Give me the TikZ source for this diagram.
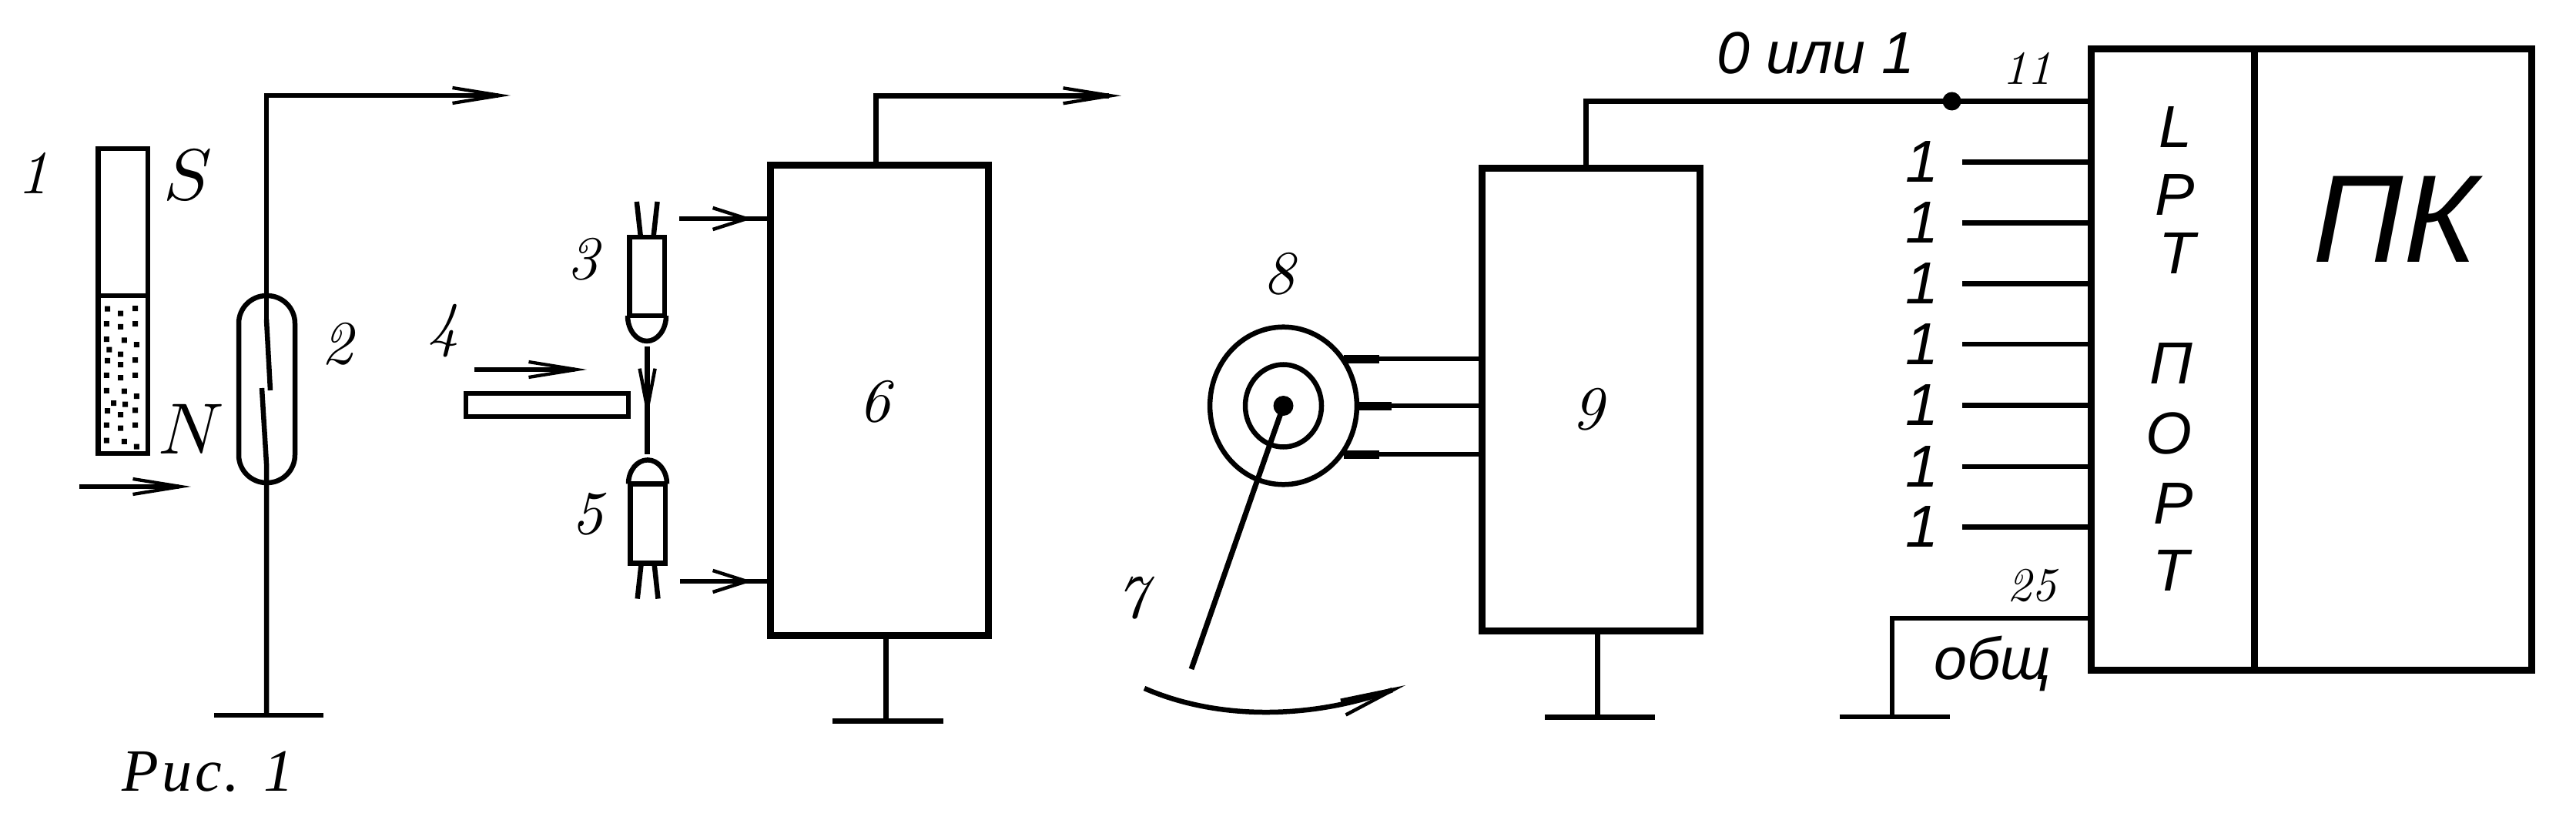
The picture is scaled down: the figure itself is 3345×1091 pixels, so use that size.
\documentclass[tikz,border=0pt]{standalone}
\usepackage{fontspec}
\usetikzlibrary{arrows.meta}
\newfontfamily\rusfont[LetterSpace=5]{Liberation Serif}
\newfontfamily\portfont{Liberation Sans}
\tikzset{
    wire/.style={line width=6.5pt},
    frame/.style={draw,line width=9pt,inner sep=0pt,outer sep=0pt},
    headlong/.style={-{Straight Barb[length=62pt,width=20pt,line width=4.3pt]}},
    headshort/.style={-{Straight Barb[length=44pt,width=28pt,line width=4.5pt]}},
    headdown/.style={-{Straight Barb[length=52pt,width=20pt,line width=4.5pt]}},
    headcurve/.style={-{Straight Barb[length=70pt,width=20pt,line width=4.5pt]}},
    num/.style={inner sep=0pt,scale=8,font=\itshape},
    pinnum/.style={inner sep=0pt,scale=6.2,font=\itshape},
    sans/.style={inner sep=0pt,font=\portfont\itshape\fontsize{77}{90}\selectfont},
    pole/.style={inner sep=0pt,scale=9.4},
}
\begin{document}
\begin{tikzpicture}[x=1pt,y=-1pt]
    \useasboundingbox (0,0) rectangle (3345,1091);
    % magnet
    \draw[wire] (127.4,193) rectangle (192,589);
    \draw[wire] (127.4,384) -- (192,384);
    \fill (136,397.5) rectangle +(7,7) (153.2,403.5) rectangle +(7,7) (172.2,397) rectangle +(7,7)
        (134.8,417.1) rectangle +(7,7) (153.2,420.9) rectangle +(7,7) (172.2,417.1) rectangle +(7,7)
        (134.8,437.1) rectangle +(7,7) (157.8,438.3) rectangle +(7,7) (173.9,444.1) rectangle +(7,7)
        (138.3,450.5) rectangle +(7,7) (153.2,456.5) rectangle +(7,7) (136,464.8) rectangle +(7,7)
        (153.2,470) rectangle +(7,7) (172.2,464.2) rectangle +(7,7) (134.8,483.8) rectangle +(7,7)
        (153.2,487) rectangle +(7,7) (172.2,483.8) rectangle +(7,7) (134.8,503.8) rectangle +(7,7)
        (157.8,504.5) rectangle +(7,7) (173.9,511.2) rectangle +(7,7) (144,520.2) rectangle +(7,7)
        (159,521.5) rectangle +(7,7) (136,530) rectangle +(7,7) (153.2,535.2) rectangle +(7,7)
        (172.2,529.3) rectangle +(7,7) (134.8,548.5) rectangle +(7,7) (153.2,552.5) rectangle +(7,7)
        (172.2,548.5) rectangle +(7,7) (134.8,568.5) rectangle +(7,7) (157.8,569.9) rectangle +(7,7)
        (173.9,576.5) rectangle +(7,7);
    \node (one) at (43,225) [num] {1};
    \node (poleS) at (244,227) [pole] {$S$};
    \node (poleN) at (248,557) [pole] {$N$};
    \coordinate (Ma) at (103,632);
    \coordinate (Mb) at (248,632);
    \draw[wire,headlong] (Ma) -- (Mb);
    % reed switch
    \node (reed) at (346.5,505.5) [draw,line width=6.5pt,rounded corners=36pt,minimum width=73,minimum height=243,outer sep=0pt] {};
    \coordinate (Ra) at (663,124);
    \coordinate (Rb) at (346,124);
    \coordinate (Rc) at (346,415);
    \coordinate (Rd) at (351,507);
    \coordinate (Re) at (340,504);
    \coordinate (Rf) at (346,602);
    \coordinate (Rg) at (346,929);
    \draw[wire,headlong] (Rc) -- (Rb) -- (Ra);
    \draw[wire] (Rc) -- (Rd);
    \draw[wire] (Re) -- (Rf) -- (Rg);
    \draw[wire] (278,929) -- (420,929);
    \node (two) at (438,447) [num] {2};
    \node (cap) at (270,1002) [inner sep=0pt,font=\rusfont\itshape\fontsize{78}{90}\selectfont] {Рис. 1};
    % strip
    \node (four) at (576,429.5) [num] {4};
    \coordinate (Sa) at (616,480);
    \coordinate (Sb) at (762,480);
    \draw[wire,headlong] (Sa) -- (Sb);
    \draw[wire] (605,511) rectangle (816,541);
    % lamp and photocell
    \draw[wire] (817.4,308) rectangle (863,410);
    \draw[wire] (815,410) arc (180:0:25 and 33);
    \draw[wire] (815,410) -- (865,410);
    \draw[wire] (826.8,262) -- (831.7,306);
    \draw[wire] (853.6,262) -- (848.7,306);
    \node (three) at (757,336.6) [num] {3};
    \coordinate (Ba) at (840.6,450);
    \coordinate (Bb) at (840.6,590);
    \coordinate (Bc) at (840.6,542.6);
    \draw[wire] (Ba) -- (Bb);
    \draw[wire,headdown] (Ba) -- (Bc);
    \draw[wire] (818.3,628.4) rectangle (863.8,731.6);
    \draw[wire] (816,628.4) arc (180:360:25 and 31);
    \draw[wire] (816,628.4) -- (866,628.4);
    \draw[wire] (832.6,732.5) -- (827.7,777.6);
    \draw[wire] (849.6,732.5) -- (854.5,777.6);
    \node (five) at (763.4,668) [num] {5};
    % block 6
    \node (bsix) at (1142,520) [frame,minimum width=283.5,minimum height=611] {};
    \node (six) at (1136,522) [num] {6};
    \coordinate (Ua) at (882,284);
    \coordinate (Ub) at (977,284);
    \coordinate (La) at (883,755);
    \coordinate (Lb) at (977,755);
    \draw[wire] (Ua) -- (Ua -| bsix.west);
    \draw[wire,headshort] (Ua) -- (Ub);
    \draw[wire] (La) -- (La -| bsix.west);
    \draw[wire,headshort] (La) -- (Lb);
    \coordinate (Ta) at (1137.5,124.3);
    \coordinate (Tb) at (1456,124.3);
    \draw[wire,headlong] (bsix.north -| Ta) -- (Ta) -- (Tb);
    \coordinate (Gs) at (1150.5,936.7);
    \draw[wire] (bsix.south -| Gs) -- (Gs);
    \draw[wire] (1081,936.7) -- (1225,936.7);
    % sensor
    \coordinate (Dc) at (1666.5,527);
    \draw[wire] (Dc) ellipse (95.4 and 102.3);
    \draw[wire] (Dc) ellipse (49.5 and 53.5);
    \fill (Dc) ellipse (13 and 13);
    \coordinate (Pe) at (1547,869);
    \draw[line width=7pt] (Dc) -- (Pe);
    \node (eight) at (1661,356) [num] {8};
    \node (seven) at (1470,777) [num] {7};
    \coordinate (Ca) at (1486,894);
    \coordinate (Cb) at (1825,890);
    \draw[wire,headcurve] (Ca) .. controls (1580,935) and (1700,935) .. (Cb);
    % block 9
    \node (bnine) at (2066,519) [frame,minimum width=283,minimum height=601] {};
    \node (nine) at (2062,532) [num] {9};
    \coordinate (Ka) at (1745,466);
    \coordinate (Kb) at (1762,527);
    \coordinate (Kc) at (1745,590);
    \draw[wire] (Ka) -- (Ka -| bnine.west);
    \draw[wire] (Kb) -- (Kb -| bnine.west);
    \draw[wire] (Kc) -- (Kc -| bnine.west);
    \draw[line width=11pt] (Ka) -- ++(46,0);
    \draw[line width=11pt] (Kb) -- ++(45,0);
    \draw[line width=11pt] (Kc) -- ++(46,0);
    \coordinate (Hs) at (2074.5,931.4);
    \draw[wire] (bnine.south -| Hs) -- (Hs);
    \draw[wire] (2006,931.4) -- (2149,931.4);
    % port
    \node (lpt) at (2821.25,467) [frame,minimum width=212.5,minimum height=806] {};
    \node (pc) at (3107.25,467) [frame,minimum width=359.5,minimum height=806] {};
    \node (pcname) at (3110,284.5) [inner sep=0pt,font=\portfont\itshape\fontsize{162}{170}\selectfont] {ПК};
    \node (chL) at (2824.5,165) [sans] {L};
    \node (chP) at (2824.5,253) [sans] {P};
    \node (chT) at (2827,329) [sans] {T};
    \node (chPe) at (2819.4,472) [sans] {П};
    \node (chO) at (2816,562.5) [sans] {О};
    \node (chEr) at (2822,654) [sans] {Р};
    \node (chTe) at (2819.4,741) [sans] {Т};
    \coordinate (Wa) at (2059.5,131.5);
    \coordinate (Wd) at (2534.5,131.5);
    \draw[wire] (bnine.north -| Wa) -- (Wa) -- (Wa -| lpt.west);
    \fill (Wd) circle (12);
    \node (bit) at (2358,69) [sans] {0 или 1};
    \node (pinA) at (2632,89) [pinnum] {11};
    \node (pinB) at (2638,761) [pinnum] {25};
    \coordinate (Pa) at (2548,210.4);
    \coordinate (Pb) at (2548,289.4);
    \coordinate (Pc) at (2548,368.4);
    \coordinate (Pd) at (2548,446.8);
    \coordinate (Pf) at (2548,526.4);
    \coordinate (Pg) at (2548,606);
    \coordinate (Ph) at (2548,684.4);
    \draw[wire] (Pa) -- (Pa -| lpt.west);
    \draw[wire] (Pb) -- (Pb -| lpt.west);
    \draw[wire] (Pc) -- (Pc -| lpt.west);
    \draw[wire] (Pd) -- (Pd -| lpt.west);
    \draw[wire] (Pf) -- (Pf -| lpt.west);
    \draw[wire] (Pg) -- (Pg -| lpt.west);
    \draw[wire] (Ph) -- (Ph -| lpt.west);
    \node (na) at (2496,210.4) [sans] {1};
    \node (nb) at (2496,289.4) [sans] {1};
    \node (nc) at (2496,368.4) [sans] {1};
    \node (nd) at (2496,446.8) [sans] {1};
    \node (nf) at (2496,526.4) [sans] {1};
    \node (ng) at (2496,606) [sans] {1};
    \node (nh) at (2496,684.4) [sans] {1};
    \coordinate (Qa) at (2457,803);
    \coordinate (Qb) at (2457,931);
    \draw[wire] (Qb) -- (Qa) -- (Qa -| lpt.west);
    \draw[wire] (2388.5,931) -- (2532,931);
    \node (common) at (2587,862) [sans] {общ};
\end{tikzpicture}
\end{document}
